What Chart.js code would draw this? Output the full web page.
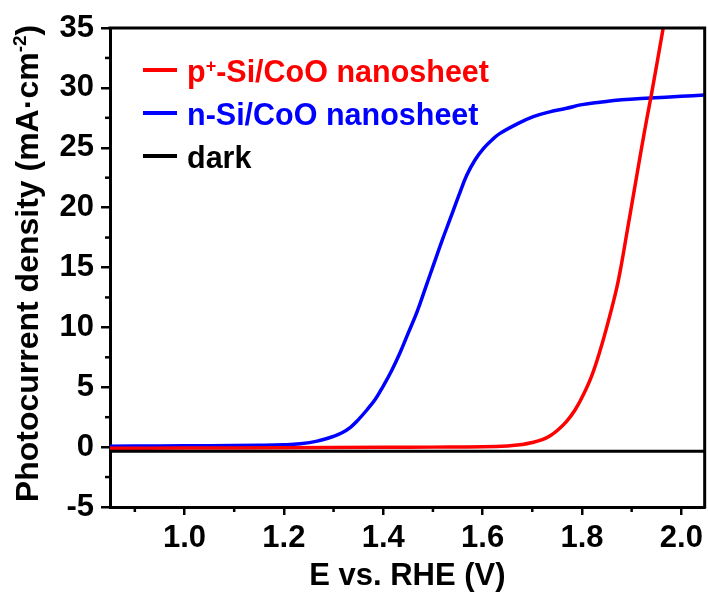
<!DOCTYPE html>
<html><head><meta charset="utf-8">
<script src="https://cdn.jsdelivr.net/npm/chart.js@4"></script>
<style>html,body{margin:0;padding:0;background:#fff}</style>
</head><body>
<canvas id="c" width="708" height="595"></canvas>
<script>
// ---------- data ----------
const xTitle = 'E vs. RHE (V)';
const yTitleParts = ['Photocurrent density (mA·cm', '-2', ')'];
const seriesNames = ['p+-Si/CoO nanosheet', 'n-Si/CoO nanosheet', 'dark'];
const legendParts = [['p', '+', '-Si/CoO nanosheet'], ['n-Si/CoO nanosheet'], ['dark']];
const seriesColors = ['#ff0000', '#0000ff', '#000000'];

const pSiX = [0.85, 1.0, 1.2, 1.4, 1.5, 1.6, 1.65, 1.68, 1.70, 1.72, 1.736, 1.752, 1.769, 1.786, 1.803, 1.82, 1.836, 1.853, 1.87, 1.88, 1.89, 1.90, 1.91, 1.92, 1.93, 1.94, 1.9635];
const pSiY = [-0.1, -0.08, -0.05, -0.02, 0, 0.03, 0.1, 0.22, 0.38, 0.62, 0.95, 1.45, 2.15, 3.1, 4.4, 6.0, 8.0, 10.5, 13.3, 15.4, 17.8, 20.2, 22.6, 25.0, 27.3, 29.5, 35.0];

const nSiX = [0.85, 0.95, 1.05, 1.15, 1.2, 1.233, 1.267, 1.30, 1.317, 1.334, 1.35, 1.367, 1.384, 1.40, 1.417, 1.434, 1.45, 1.468, 1.485, 1.501, 1.518, 1.535, 1.552, 1.568, 1.585, 1.602, 1.62, 1.635, 1.67, 1.702, 1.735, 1.769, 1.80, 1.836, 1.88, 1.937, 2.0, 2.047];
const nSiY = [0.08, 0.1, 0.12, 0.16, 0.2, 0.28, 0.5, 0.9, 1.2, 1.65, 2.3, 3.1, 4.0, 5.1, 6.4, 7.9, 9.5, 11.3, 13.3, 15.2, 17.2, 19.1, 21.0, 22.7, 24.0, 24.95, 25.7, 26.2, 27.0, 27.6, 28.0, 28.3, 28.6, 28.8, 29.0, 29.15, 29.3, 29.4];

const darkX = [0.85, 2.047];
const darkY = [-0.35, -0.35];

const xTickValues = [1.0, 1.2, 1.4, 1.6, 1.8, 2.0];
const xTickLabels = ['1.0', '1.2', '1.4', '1.6', '1.8', '2.0'];
const yTickValues = [-5, 0, 5, 10, 15, 20, 25, 30, 35];
const yTickLabels = ['-5', '0', '5', '10', '15', '20', '25', '30', '35'];

// ---------- build ----------
const FONT = '"Liberation Sans", Arial, sans-serif';
const toPts = (xs, ys) => xs.map((x, i) => ({x: x, y: ys[i]}));
const lookup = (vals, labs, v) => {
  for (let i = 0; i < vals.length; i++) if (Math.abs(vals[i] - v) < 1e-6) return labs[i];
  return '';
};

const framePlugin = {
  id: 'frame',
  afterDraw(chart) {
    const ctx = chart.ctx, a = chart.chartArea;
    const xs = chart.scales.x, ys = chart.scales.y;
    ctx.save();
    ctx.strokeStyle = '#000';
    // minor ticks
    ctx.lineWidth = 2.5;
    xs.ticks.forEach(t => {
      if (lookup(xTickValues, xTickLabels, t.value) === '') {
        const px = xs.getPixelForValue(t.value);
        ctx.beginPath(); ctx.moveTo(px, a.bottom); ctx.lineTo(px, a.bottom + 5); ctx.stroke();
      }
    });
    ys.ticks.forEach(t => {
      if (lookup(yTickValues, yTickLabels, t.value) === '') {
        const py = ys.getPixelForValue(t.value);
        ctx.beginPath(); ctx.moveTo(a.left, py); ctx.lineTo(a.left - 5, py); ctx.stroke();
      }
    });
    // top & right frame
    ctx.lineWidth = 3;
    ctx.beginPath();
    ctx.moveTo(a.left - 1.5, a.top); ctx.lineTo(a.right, a.top); ctx.lineTo(a.right, a.bottom + 1.5);
    ctx.stroke();

    // y title with superscript
    ctx.fillStyle = '#000';
    const big = 'bold 32px ' + FONT, small = 'bold 19px ' + FONT;
    ctx.font = big; const w0 = ctx.measureText(yTitleParts[0]).width;
    ctx.font = small; const w1 = ctx.measureText(yTitleParts[1]).width;
    ctx.font = big; const w2 = ctx.measureText(yTitleParts[2]).width;
    const total = w0 + w1 + w2;
    ctx.translate(38, (a.top + a.bottom) / 2 - 4);
    ctx.rotate(-Math.PI / 2);
    ctx.textBaseline = 'alphabetic'; ctx.textAlign = 'left';
    let cx = -total / 2;
    ctx.font = big; ctx.fillText(yTitleParts[0], cx, 0); cx += w0;
    ctx.font = small; ctx.fillText(yTitleParts[1], cx, -12); cx += w1;
    ctx.font = big; ctx.fillText(yTitleParts[2], cx, 0);
    ctx.restore();

    // legend
    ctx.save();
    const lbig = 'bold 30.5px ' + FONT, lsmall = 'bold 18px ' + FONT;
    const baselines = [82, 125, 168];
    legendParts.forEach((parts, i) => {
      const b = baselines[i];
      ctx.strokeStyle = seriesColors[i];
      ctx.lineWidth = 4;
      ctx.beginPath(); ctx.moveTo(143, b - 12); ctx.lineTo(177, b - 12); ctx.stroke();
      ctx.fillStyle = seriesColors[i];
      ctx.textBaseline = 'alphabetic'; ctx.textAlign = 'left';
      let tx = 187;
      parts.forEach((p, j) => {
        const sup = parts.length === 3 && j === 1;
        ctx.font = sup ? lsmall : lbig;
        ctx.fillText(p, tx, sup ? b - 10 : b);
        tx += ctx.measureText(p).width;
      });
    });
    ctx.restore();
  }
};

new Chart(document.getElementById('c'), {
  type: 'line',
  data: {
    datasets: [
      {label: seriesNames[2], data: toPts(darkX, darkY), borderColor: seriesColors[2], borderWidth: 3},
      {label: seriesNames[0], data: toPts(pSiX, pSiY), borderColor: seriesColors[0], borderWidth: 3.5, tension: 0.4},
      {label: seriesNames[1], data: toPts(nSiX, nSiY), borderColor: seriesColors[1], borderWidth: 3.5, tension: 0.4}
    ]
  },
  options: {
    responsive: false, animation: false, devicePixelRatio: 1,
    layout: {padding: {top: 28, right: 3, left: 0, bottom: 0}},
    plugins: {legend: {display: false}, tooltip: {enabled: false}},
    elements: {point: {radius: 0}},
    scales: {
      x: {
        type: 'linear', min: 0.85, max: 2.047,
        afterFit(s) { s.height = 88; },
        ticks: {
          stepSize: 0.1, includeBounds: false, autoSkip: false, maxRotation: 0,
          font: {family: FONT, size: 31, weight: 'bold'}, color: '#000', padding: 5,
          callback: v => lookup(xTickValues, xTickLabels, v)
        },
        grid: {
          drawOnChartArea: false, drawTicks: true, tickLength: 8, lineWidth: 2.5,
          color: c => (c.tick && lookup(xTickValues, xTickLabels, c.tick.value) !== '') ? '#000' : 'rgba(0,0,0,0)'
        },
        border: {color: '#000', width: 3},
        title: {display: true, text: xTitle, color: '#000', font: {family: FONT, size: 31, weight: 'bold'}, padding: {top: 0, bottom: 0}}
      },
      y: {
        type: 'linear', min: -5, max: 35,
        afterFit(s) { s.width = 110; },
        ticks: {
          stepSize: 2.5, autoSkip: false,
          font: {family: FONT, size: 31, weight: 'bold'}, color: '#000', padding: 7,
          callback: v => lookup(yTickValues, yTickLabels, v)
        },
        grid: {
          drawOnChartArea: false, drawTicks: true, tickLength: 9, lineWidth: 2.5,
          color: c => (c.tick && lookup(yTickValues, yTickLabels, c.tick.value) !== '') ? '#000' : 'rgba(0,0,0,0)'
        },
        border: {color: '#000', width: 3},
        title: {display: false}
      }
    }
  },
  plugins: [framePlugin]
});
</script>
</body></html>
